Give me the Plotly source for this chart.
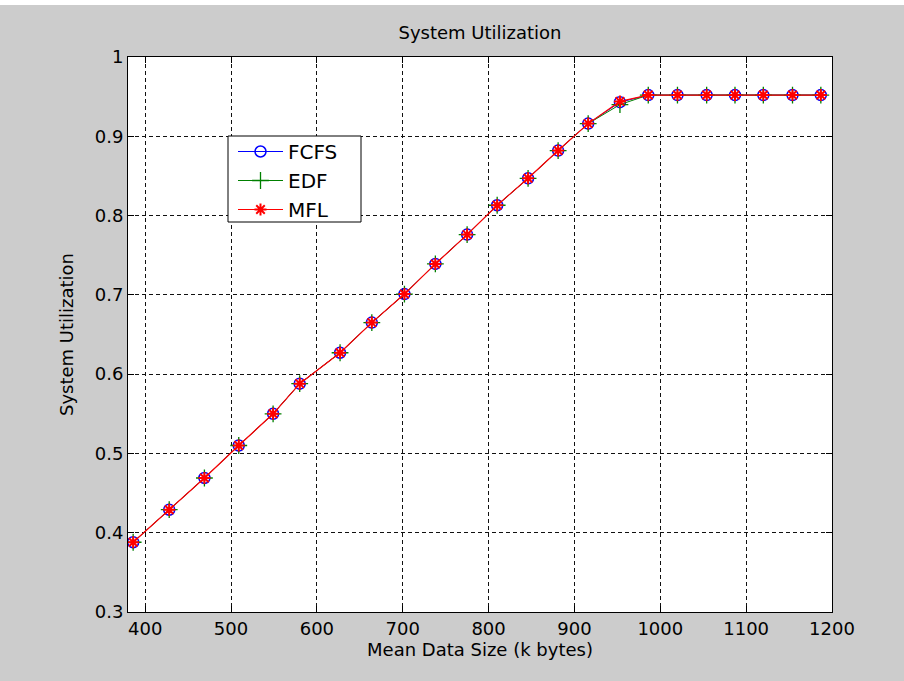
import plotly.graph_objects as go

# ---- data ----
data_size = [386, 428, 469, 509, 549, 580, 627, 664, 702, 738, 775, 810,
             846, 881, 916, 953, 986, 1020, 1054, 1087, 1120, 1154, 1187]
util_fcfs = [0.388, 0.429, 0.469, 0.510, 0.550, 0.588, 0.627, 0.665, 0.701,
             0.739, 0.776, 0.813, 0.847, 0.882, 0.916, 0.943, 0.952, 0.952,
             0.952, 0.952, 0.952, 0.952, 0.952]
util_edf = [0.388, 0.429, 0.469, 0.510, 0.550, 0.588, 0.627, 0.665, 0.701,
            0.739, 0.776, 0.813, 0.847, 0.882, 0.916, 0.940, 0.952, 0.952,
            0.952, 0.952, 0.952, 0.952, 0.952]
util_mfl = [0.388, 0.429, 0.469, 0.510, 0.550, 0.588, 0.627, 0.665, 0.701,
            0.739, 0.776, 0.813, 0.847, 0.882, 0.916, 0.944, 0.952, 0.952,
            0.952, 0.952, 0.952, 0.952, 0.952]
x_ticks = [400, 500, 600, 700, 800, 900, 1000, 1100, 1200]
y_ticks = [0.3, 0.4, 0.5, 0.6, 0.7, 0.8, 0.9, 1.0]
y_tick_labels = ["0.3", "0.4", "0.5", "0.6", "0.7", "0.8", "0.9", "1"]

FONT = "DejaVu Sans, Liberation Sans, Arial, sans-serif"
W, H = 904, 681
L, R, T, B = 128, 72, 57, 69
ph = H - T - B
pw = W - L - R


def px_x(p):
    return (p - L) / pw


def px_y(p):
    return 1 - (p - T) / ph


fig = go.Figure()
fig.add_trace(go.Scatter(
    x=data_size, y=util_fcfs, name="FCFS", mode="lines+markers",
    line=dict(color="#0000FF", width=1),
    marker=dict(symbol="circle-open", size=11, color="#0000FF",
                line=dict(width=1.5, color="#0000FF"))))
fig.add_trace(go.Scatter(
    x=data_size, y=util_edf, name="EDF", mode="lines+markers",
    line=dict(color="#008000", width=1),
    marker=dict(symbol="cross-thin-open", size=12, color="#008000",
                line=dict(width=1.3, color="#008000"))))
fig.add_trace(go.Scatter(
    x=data_size, y=util_mfl, name="MFL", mode="lines+markers",
    line=dict(color="#FF0000", width=1.2),
    marker=dict(symbol="asterisk-open", size=10, color="#FF0000",
                line=dict(width=2, color="#FF0000"))))

grid_common = dict(
    showgrid=True, gridcolor="#111111", gridwidth=1, griddash="4px,3px",
    showline=True, linecolor="#000000", linewidth=1, mirror="allticks",
    ticks="inside", ticklen=6, tickcolor="#000000", tickwidth=1,
    zeroline=False,
    tickfont=dict(family=FONT, size=18, color="#000000"),
)

fig.update_xaxes(range=[380, 1200], tickvals=x_ticks,
                 ticktext=[str(v) for v in x_ticks],
                 title=dict(text="Mean Data Size (k bytes)",
                            font=dict(family=FONT, size=18, color="#000000"),
                            standoff=5),
                 **grid_common)
fig.update_yaxes(range=[0.3, 1.0], tickvals=y_ticks, ticktext=y_tick_labels,
                 title=dict(text="System Utilization",
                            font=dict(family=FONT, size=18, color="#000000"),
                            standoff=16),
                 **grid_common)

# thin white strip along the top edge of the window
fig.add_shape(type="rect", xref="paper", yref="paper",
              x0=px_x(0), x1=px_x(W), y0=px_y(5), y1=px_y(0),
              fillcolor="#FFFFFF", line=dict(width=0), layer="below")
# legend frame
fig.add_shape(type="rect", xref="paper", yref="paper",
              x0=px_x(228), x1=px_x(361), y0=px_y(222), y1=px_y(136),
              fillcolor="#FFFFFF", line=dict(width=1, color="#000000"),
              layer="above")

fig.update_layout(
    width=W, height=H,
    margin=dict(l=L, r=R, t=T, b=B),
    paper_bgcolor="#CCCCCC", plot_bgcolor="#FFFFFF",
    title=dict(text="System Utilization", x=(L + pw / 2) / W, xanchor="center",
               y=1 - 33 / H, yanchor="middle", yref="container",
               font=dict(family=FONT, size=18, color="#000000")),
    showlegend=True,
    legend=dict(x=px_x(233), y=px_y(132), xanchor="left",
                yanchor="top", bgcolor="rgba(0,0,0,0)",
                borderwidth=0, font=dict(family=FONT, size=20, color="#000000"),
                tracegroupgap=0, itemwidth=45),
)

fig.write_html("out.html")
